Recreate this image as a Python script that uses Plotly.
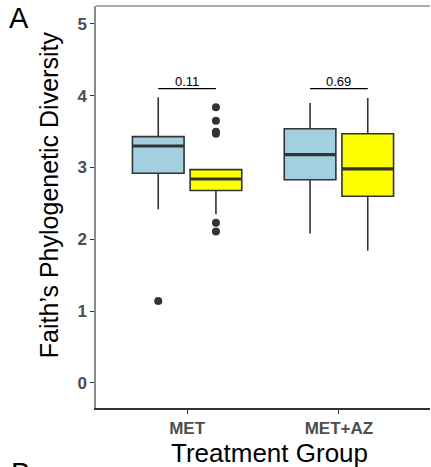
import plotly.graph_objects as go

categories = ["MET", "MET+AZ"]
groups = ["A", "B"]
colors = ["#A3D0E0", "#FFFF00"]

# per group: values for [MET, MET+AZ]
q1 = {"A": [2.92, 2.83], "B": [2.68, 2.60]}
median = {"A": [3.30, 3.18], "B": [2.84, 2.98]}
q3 = {"A": [3.43, 3.54], "B": [2.97, 3.47]}
lowerfence = {"A": [2.42, 2.08], "B": [2.35, 1.84]}
upperfence = {"A": [3.98, 3.90], "B": [2.97, 3.97]}
outliers = {"A": [[1.14], []], "B": [[3.84, 3.65, 3.50, 3.47, 2.23, 2.11], []]}
pvalues = ["0.11", "0.69"]
bracket_y = [4.10, 4.10]

offset = 0.19
bw = 0.34
dark = "#333333"
FONT = "Liberation Sans, Arial"

fig = go.Figure()
for gi, g in enumerate(groups):
    xs = [i + 1 + (offset if gi else -offset) for i in range(len(categories))]
    fig.add_trace(go.Box(
        x=xs, q1=q1[g], median=median[g], q3=q3[g],
        lowerfence=lowerfence[g], upperfence=upperfence[g],
        width=bw, fillcolor=colors[gi], line=dict(color=dark, width=1.6),
        whiskerwidth=0, boxpoints=False, showlegend=False, hoverinfo="skip"))
    for i, x in enumerate(xs):
        fig.add_trace(go.Scatter(
            x=[x - bw / 2, x + bw / 2], y=[median[g][i]] * 2, mode="lines",
            line=dict(color=dark, width=3.2), showlegend=False, hoverinfo="skip"))
        if outliers[g][i]:
            fig.add_trace(go.Scatter(
                x=[x] * len(outliers[g][i]), y=outliers[g][i], mode="markers",
                marker=dict(color=dark, size=8), showlegend=False, hoverinfo="skip"))

for i, p in enumerate(pvalues):
    x0, x1 = i + 1 - offset, i + 1 + offset
    fig.add_trace(go.Scatter(x=[x0, x1], y=[bracket_y[i]] * 2, mode="lines",
                             line=dict(color="black", width=1.2),
                             showlegend=False, hoverinfo="skip"))
    fig.add_annotation(x=i + 1, y=bracket_y[i], text=p, showarrow=False,
                       yanchor="bottom", yshift=-2,
                       font=dict(family=FONT, size=13, color="black"))

# panel border top (gray)
fig.add_shape(type="line", xref="paper", yref="paper", x0=0, x1=1, y0=1, y1=1,
              line=dict(color="#8C8C8C", width=1.5))
fig.add_annotation(xref="paper", yref="paper", x=-0.265, y=1.014, text="A",
                   showarrow=False, xanchor="left", yanchor="top",
                   font=dict(family=FONT, size=29, color="black"))
fig.add_annotation(xref="paper", yref="paper", x=-0.26, y=-0.118, text="B",
                   showarrow=False, xanchor="left", yanchor="top",
                   font=dict(family=FONT, size=29, color="black"))
# axis titles
fig.add_annotation(xref="paper", yref="paper", x=-0.14, y=0.53,
                   text="Faith’s Phylogenetic Diversity", textangle=-90,
                   showarrow=False, xanchor="center", yanchor="middle",
                   font=dict(family=FONT, size=25, color="black"))
fig.add_annotation(xref="paper", yref="paper", x=0.519, y=-0.112,
                   text="Treatment Group", showarrow=False,
                   xanchor="center", yanchor="middle",
                   font=dict(family=FONT, size=26, color="black"))

fig.update_layout(
    width=431, height=467,
    margin=dict(l=96, r=1, t=6, b=59),
    plot_bgcolor="white", paper_bgcolor="white",
    xaxis=dict(range=[0.4, 2.6], tickvals=[1, 2], ticktext=categories,
               showgrid=False, zeroline=False, showline=True, linecolor=dark,
               linewidth=1.5, ticks="outside", ticklen=4, tickcolor=dark,
               tickfont=dict(family=FONT, size=17, color="#4D4D4D", weight="bold")),
    yaxis=dict(range=[-0.35, 5.25], tickvals=[0, 1, 2, 3, 4, 5],
               showgrid=False, zeroline=False, showline=True, linecolor="#8C8C8C",
               linewidth=1.5, ticks="outside", ticklen=4, tickcolor=dark,
               tickfont=dict(family=FONT, size=17, color="#4D4D4D", weight="bold")),
)

fig.write_html("out.html")
